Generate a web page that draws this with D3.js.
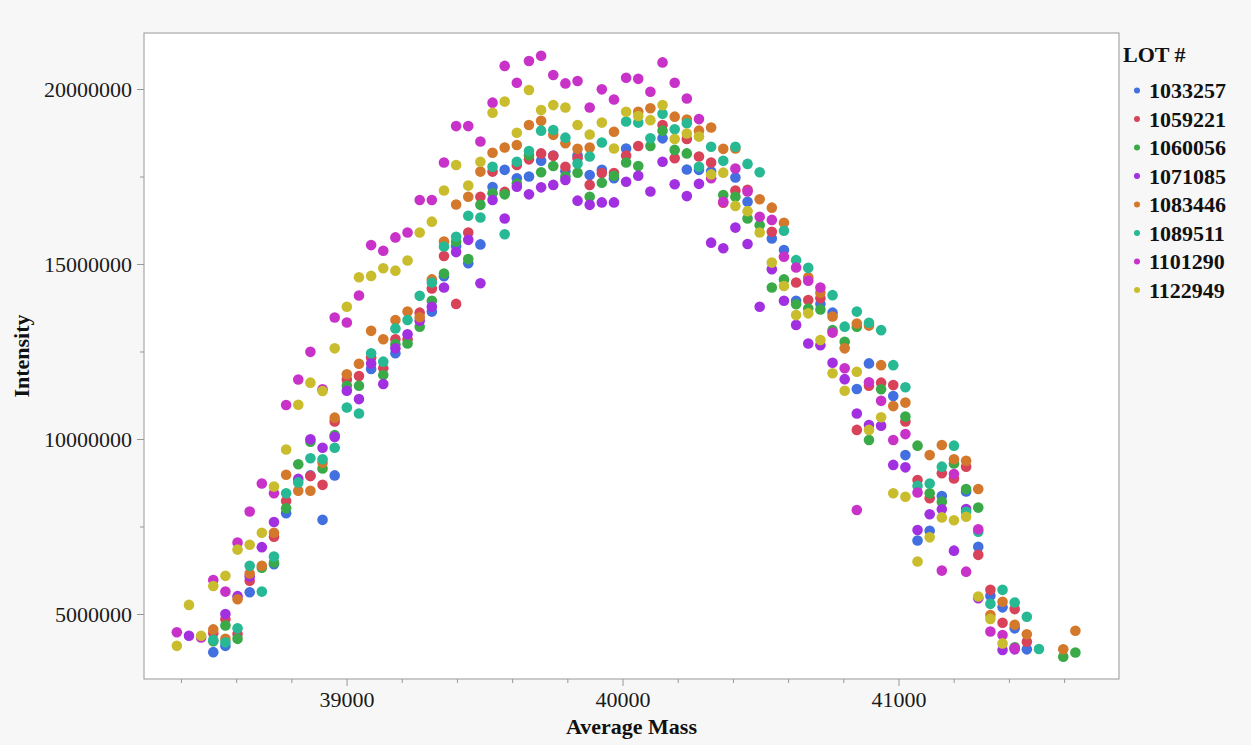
<!DOCTYPE html>
<meta charset="utf-8">
<script src="https://d3js.org/d3.v7.min.js"></script>
<style>
  body { margin: 0; background: #f7f7f7; }
  text { font-family: "Liberation Serif", "Times New Roman", serif; }
</style>
<div id="my_dataviz"></div>
<script>
// Lots shown in the legend, in draw order
var lots = ["1033257", "1059221", "1060056", "1071085", "1083446", "1089511", "1101290", "1122949"];
var lotColors = ["#4270e0", "#d9435a", "#3aaa48", "#a22fe0", "#d4782c", "#27b994", "#c832c8", "#c9bd2e"];

// [Average Mass, Intensity] per lot
var lot1033257 = [[38517,3.91e6],[38561,4.09e6],[38649,5.62e6],[38737,6.42e6],[38781,7.88e6],[38869,8.96e6],[38913,7.69e6],[38957,8.96e6],
  [39089,12.0e6],[39177,12.45e6],[39309,13.64e6],[39353,14.65e6],[39397,15.51e6],[39441,15.02e6],[39485,15.56e6],[39529,17.2e6],
  [39573,17.69e6],[39617,17.45e6],[39661,17.5e6],[39705,17.95e6],[39749,18.1e6],[39793,17.65e6],[39837,18.1e6],[39881,17.54e6],
  [39925,17.69e6],[39969,17.45e6],[40013,18.3e6],[40145,18.59e6],[40233,17.7e6],[40277,17.69e6],[40321,17.64e6],[40409,17.47e6],
  [40453,16.78e6],[40541,15.73e6],[40585,15.4e6],[40629,13.95e6],[40717,13.86e6],[40761,13.61e6],[40849,11.43e6],[40893,12.16e6],
  [40981,11.23e6],[41025,9.54e6],[41069,7.1e6],[41113,7.38e6],[41157,8.37e6],[41245,8.5e6],[41289,6.92e6],[41333,5.52e6],
  [41377,5.19e6],[41421,4.59e6],[41465,3.99e6]];
var lot1059221 = [[38517,4.45e6],[38561,4.85e6],[38605,4.43e6],[38649,5.95e6],[38737,7.21e6],[38781,8.23e6],[38869,8.94e6],[38913,8.69e6],
  [38957,10.5e6],[39001,11.7e6],[39045,11.8e6],[39089,12.33e6],[39133,12.02e6],[39177,12.85e6],[39221,12.85e6],[39265,13.61e6],
  [39309,14.3e6],[39353,15.23e6],[39397,13.86e6],[39441,15.9e6],[39485,16.92e6],[39529,17.64e6],[39573,17.06e6],[39617,17.83e6],
  [39661,17.99e6],[39705,18.16e6],[39749,18.09e6],[39793,17.78e6],[39837,18.02e6],[39881,17.26e6],[39925,17.6e6],[39969,17.6e6],
  [40013,18.1e6],[40057,18.37e6],[40145,18.97e6],[40189,18.02e6],[40233,18.57e6],[40277,18.07e6],[40321,17.9e6],[40365,16.75e6],
  [40409,17.1e6],[40453,17.12e6],[40541,15.92e6],[40629,14.47e6],[40673,13.97e6],[40717,14.02e6],[40849,10.26e6],[40893,11.52e6],
  [40937,11.61e6],[40981,11.54e6],[41025,10.5e6],[41069,8.83e6],[41113,8.31e6],[41157,9.02e6],[41201,8.87e6],[41245,9.21e6],
  [41289,6.69e6],[41333,5.69e6],[41377,4.75e6],[41421,5.14e6],[41465,4.21e6]];
var lot1060056 = [[38517,4.22e6],[38561,4.67e6],[38605,4.29e6],[38693,6.32e6],[38737,6.47e6],[38781,8.02e6],[38825,9.28e6],[38869,9.92e6],
  [38913,9.16e6],[38957,10.11e6],[39001,11.52e6],[39045,11.52e6],[39133,11.83e6],[39177,12.71e6],[39221,12.73e6],[39265,13.21e6],
  [39309,13.95e6],[39353,14.73e6],[39397,15.64e6],[39441,15.14e6],[39485,16.69e6],[39529,17.02e6],[39573,16.99e6],[39617,17.3e6],
  [39661,18.11e6],[39705,17.62e6],[39749,17.8e6],[39793,17.5e6],[39837,17.61e6],[39881,16.92e6],[39925,17.32e6],[39969,17.52e6],
  [40013,17.9e6],[40057,17.8e6],[40101,18.37e6],[40145,18.81e6],[40189,18.26e6],[40233,18.16e6],[40365,16.97e6],[40409,16.92e6],
  [40453,16.3e6],[40497,16.11e6],[40541,14.33e6],[40585,14.56e6],[40629,13.85e6],[40673,13.73e6],[40717,13.7e6],[40761,13.11e6],
  [40805,12.78e6],[40849,13.21e6],[40893,9.97e6],[40937,11.42e6],[41025,10.64e6],[41069,9.81e6],[41113,8.45e6],[41157,8.21e6],
  [41201,9.3e6],[41245,8.57e6],[41289,8.04e6],[41421,4.05e6],[41597,3.78e6],[41641,3.9e6]];
var lot1071085 = [[38429,4.38e6],[38561,5.0e6],[38605,5.51e6],[38649,6.07e6],[38693,6.91e6],[38737,7.63e6],[38825,8.86e6],[38869,9.99e6],
  [38913,9.75e6],[38957,10.06e6],[39001,11.38e6],[39045,11.14e6],[39089,12.16e6],[39133,11.57e6],[39177,12.59e6],[39221,12.99e6],
  [39265,13.38e6],[39309,13.78e6],[39353,14.33e6],[39397,15.34e6],[39441,15.69e6],[39485,14.45e6],[39529,16.83e6],[39573,16.3e6],
  [39617,17.21e6],[39661,16.99e6],[39705,17.19e6],[39749,17.26e6],[39793,17.4e6],[39837,16.81e6],[39881,16.69e6],[39925,16.76e6],
  [39969,16.76e6],[40013,17.35e6],[40057,17.52e6],[40101,17.07e6],[40145,17.92e6],[40189,17.28e6],[40233,16.94e6],[40277,17.29e6],
  [40321,15.61e6],[40365,15.45e6],[40409,16.04e6],[40453,15.57e6],[40497,13.78e6],[40541,14.85e6],[40585,13.95e6],[40629,13.26e6],
  [40673,12.73e6],[40717,12.68e6],[40761,12.18e6],[40805,11.71e6],[40849,10.73e6],[40893,10.4e6],[40937,10.38e6],[40981,9.26e6],
  [41025,9.19e6],[41069,7.4e6],[41113,7.85e6],[41157,7.99e6],[41201,6.81e6],[41245,8.0e6],[41289,5.45e6],[41377,3.97e6],[41421,3.99e6]];
var lot1083446 = [[38517,4.56e6],[38561,4.29e6],[38605,5.42e6],[38649,6.16e6],[38693,6.38e6],[38737,7.32e6],[38781,8.98e6],[38825,8.52e6],
  [38869,8.52e6],[38913,9.32e6],[38957,10.61e6],[39001,11.85e6],[39045,12.15e6],[39089,13.09e6],[39133,12.85e6],[39177,13.4e6],
  [39221,13.64e6],[39265,13.48e6],[39309,14.56e6],[39353,15.64e6],[39397,16.7e6],[39441,16.92e6],[39485,17.64e6],[39529,18.18e6],
  [39573,18.33e6],[39617,18.4e6],[39661,18.97e6],[39705,19.09e6],[39749,18.69e6],[39793,18.45e6],[39837,18.29e6],[39881,18.33e6],
  [39969,18.78e6],[40057,19.35e6],[40101,19.45e6],[40189,19.21e6],[40233,19.13e6],[40277,18.81e6],[40321,18.9e6],[40365,18.29e6],
  [40409,18.3e6],[40497,16.85e6],[40541,16.61e6],[40585,16.18e6],[40673,14.62e6],[40717,14.18e6],[40761,13.5e6],[40805,12.59e6],
  [40849,13.3e6],[40893,13.24e6],[40937,12.11e6],[40981,10.94e6],[41025,11.04e6],[41113,9.54e6],[41157,9.83e6],[41201,9.42e6],
  [41245,9.38e6],[41289,8.57e6],[41333,4.97e6],[41377,5.35e6],[41421,4.69e6],[41465,4.42e6],[41597,3.99e6],[41641,4.52e6]];
var lot1089511 = [[38517,4.26e6],[38561,4.19e6],[38605,4.59e6],[38649,6.38e6],[38693,5.64e6],[38737,6.64e6],[38781,8.45e6],[38825,8.76e6],
  [38869,9.45e6],[38913,9.42e6],[38957,9.75e6],[39001,10.9e6],[39045,10.73e6],[39089,12.45e6],[39133,12.21e6],[39177,13.16e6],
  [39221,13.4e6],[39265,14.09e6],[39309,14.47e6],[39353,15.5e6],[39397,15.78e6],[39441,16.38e6],[39485,16.33e6],[39529,17.78e6],
  [39573,15.85e6],[39617,17.92e6],[39661,18.23e6],[39705,18.81e6],[39749,18.83e6],[39793,18.61e6],[39837,17.87e6],[39881,18.07e6],
  [39925,18.47e6],[40013,19.07e6],[40057,19.04e6],[40101,18.59e6],[40145,19.29e6],[40189,18.85e6],[40233,19.02e6],[40277,17.78e6],
  [40321,18.35e6],[40365,17.95e6],[40409,18.35e6],[40453,17.86e6],[40497,17.62e6],[40585,15.95e6],[40629,15.11e6],[40673,14.89e6],
  [40761,14.11e6],[40805,13.21e6],[40849,13.64e6],[40893,13.32e6],[40937,13.11e6],[40981,12.11e6],[41025,11.48e6],[41069,8.66e6],
  [41113,8.73e6],[41157,9.21e6],[41201,9.81e6],[41245,7.92e6],[41289,7.35e6],[41333,5.29e6],[41377,5.69e6],[41421,5.33e6],
  [41465,4.92e6],[41509,4.0e6]];
var lot1101290 = [[38385,4.48e6],[38473,4.33e6],[38517,5.97e6],[38561,5.64e6],[38605,7.04e6],[38649,7.93e6],[38693,8.73e6],[38737,8.45e6],
  [38781,10.97e6],[38825,11.7e6],[38869,12.49e6],[38913,11.42e6],[38957,13.47e6],[39001,13.33e6],[39045,14.1e6],[39089,15.54e6],
  [39133,15.38e6],[39177,15.76e6],[39221,15.9e6],[39265,16.83e6],[39309,16.83e6],[39353,17.9e6],[39397,18.94e6],[39441,18.94e6],
  [39485,18.5e6],[39529,19.61e6],[39573,20.66e6],[39617,20.18e6],[39661,20.8e6],[39705,20.95e6],[39749,20.4e6],[39793,20.16e6],
  [39837,20.23e6],[39881,19.47e6],[39925,19.99e6],[39969,19.7e6],[40013,20.32e6],[40057,20.29e6],[40101,19.92e6],[40145,20.76e6],
  [40189,20.18e6],[40233,19.73e6],[40277,19.14e6],[40321,17.45e6],[40365,16.78e6],[40409,17.73e6],[40453,17.07e6],[40497,16.35e6],
  [40541,16.26e6],[40585,15.21e6],[40629,14.9e6],[40673,14.52e6],[40717,14.33e6],[40761,13.04e6],[40805,12.02e6],[40849,7.97e6],
  [40893,11.62e6],[40937,11.09e6],[40981,9.97e6],[41025,10.14e6],[41069,8.47e6],[41157,6.24e6],[41201,9.0e6],[41245,6.21e6],
  [41289,7.42e6],[41333,4.5e6],[41377,4.4e6],[41421,4.02e6]];
var lot1122949 = [[38385,4.09e6],[38429,5.26e6],[38473,4.38e6],[38517,5.8e6],[38561,6.09e6],[38605,6.84e6],[38649,6.98e6],[38693,7.32e6],
  [38737,8.64e6],[38781,9.7e6],[38825,10.98e6],[38869,11.61e6],[38913,11.37e6],[38957,12.59e6],[39001,13.78e6],[39045,14.62e6],
  [39089,14.66e6],[39133,14.88e6],[39177,14.81e6],[39221,15.1e6],[39265,15.9e6],[39309,16.21e6],[39353,17.1e6],[39397,17.83e6],
  [39441,17.24e6],[39485,17.92e6],[39529,19.32e6],[39573,19.64e6],[39617,18.75e6],[39661,19.97e6],[39705,19.4e6],[39749,19.54e6],
  [39793,19.47e6],[39837,18.97e6],[39881,18.7e6],[39925,19.04e6],[39969,18.3e6],[40013,19.35e6],[40057,19.23e6],[40101,19.11e6],
  [40145,19.54e6],[40189,18.57e6],[40233,18.73e6],[40277,18.64e6],[40321,17.56e6],[40365,17.61e6],[40409,16.66e6],[40453,16.51e6],
  [40497,15.9e6],[40541,15.04e6],[40585,14.37e6],[40629,13.54e6],[40673,13.59e6],[40717,12.83e6],[40761,11.88e6],[40805,11.38e6],
  [40849,11.92e6],[40893,10.26e6],[40937,10.62e6],[40981,8.45e6],[41025,8.35e6],[41069,6.5e6],[41113,7.19e6],[41157,7.76e6],
  [41201,7.68e6],[41245,7.78e6],[41289,5.5e6],[41333,4.86e6],[41377,4.16e6]];

var lotData = [lot1033257, lot1059221, lot1060056, lot1071085, lot1083446, lot1089511, lot1101290, lot1122949];

// Tick values
var xMajorTicks = [39000, 40000, 41000];
var xMinorTicks = [38400, 38600, 38800, 39200, 39400, 39600, 39800, 40200, 40400, 40600, 40800, 41200, 41400, 41600];
var yMajorTicks = [5000000, 10000000, 15000000, 20000000];
var yMinorTicks = [7500000, 12500000, 17500000];

// Dimensions
var W = 1251, H = 745;
var margin = {top: 33, right: 132, bottom: 66, left: 144},
    width = W - margin.left - margin.right,
    height = H - margin.top - margin.bottom;

var svgRoot = d3.select("#my_dataviz")
  .append("svg")
    .attr("width", W)
    .attr("height", H);

svgRoot.append("rect")
  .attr("width", W).attr("height", H)
  .attr("fill", "#f7f7f7");

var svg = svgRoot.append("g")
    .attr("transform", "translate(" + margin.left + "," + margin.top + ")");

var x = d3.scaleLinear().domain([38266, 41799]).range([0, width]);
var y = d3.scaleLinear().domain([3143000, 21600000]).range([height, 0]);

// plot frame
svg.append("rect")
  .attr("width", width).attr("height", height)
  .attr("fill", "#ffffff")
  .attr("stroke", "#a9a9a9")
  .attr("stroke-width", 1.2);

// X axis: minor then major ticks
svg.append("g")
  .attr("transform", "translate(0," + height + ")")
  .call(d3.axisBottom(x).tickValues(xMinorTicks).tickSize(4).tickFormat(""))
  .call(function(g) { g.select(".domain").remove(); });

var xAxis = svg.append("g")
  .attr("transform", "translate(0," + height + ")")
  .call(d3.axisBottom(x).tickValues(xMajorTicks).tickSize(7).tickPadding(5).tickFormat(d3.format("d")));
xAxis.select(".domain").remove();

// Y axis
svg.append("g")
  .call(d3.axisLeft(y).tickValues(yMinorTicks).tickSize(4).tickFormat(""))
  .call(function(g) { g.select(".domain").remove(); });

var yAxis = svg.append("g")
  .call(d3.axisLeft(y).tickValues(yMajorTicks).tickSize(7).tickPadding(5).tickFormat(d3.format("d")));
yAxis.select(".domain").remove();

svg.selectAll(".tick line").attr("stroke", "#999999");
svg.selectAll(".tick text")
  .style("font-family", "'Liberation Serif', serif")
  .style("font-size", "22px")
  .attr("fill", "#1a1a1a");

// Points, one group per lot
lotData.forEach(function(data, i) {
  svg.append("g")
    .selectAll("circle")
    .data(data)
    .enter()
    .append("circle")
      .attr("cx", function(d) { return x(d[0]); })
      .attr("cy", function(d) { return y(d[1]); })
      .attr("r", 5.3)
      .style("fill", lotColors[i]);
});

// Axis titles
svgRoot.append("text")
  .attr("x", margin.left + width / 2)
  .attr("y", 734)
  .attr("text-anchor", "middle")
  .style("font-weight", "bold")
  .style("font-size", "22px")
  .attr("fill", "#111")
  .text("Average Mass");

svgRoot.append("text")
  .attr("transform", "translate(29," + (margin.top + height / 2) + ")rotate(-90)")
  .attr("text-anchor", "middle")
  .style("font-weight", "bold")
  .style("font-size", "22px")
  .attr("fill", "#111")
  .text("Intensity");

// Legend
var legend = svgRoot.append("g").attr("transform", "translate(1123,0)");
legend.append("text")
  .attr("x", 0).attr("y", 62)
  .style("font-weight", "bold")
  .style("font-size", "22px")
  .attr("fill", "#111")
  .text("LOT #");

var items = legend.selectAll("g.item")
  .data(lots)
  .enter()
  .append("g")
    .attr("class", "item")
    .attr("transform", function(d, i) { return "translate(0," + (90.5 + i * 28.5) + ")"; });

items.append("circle")
  .attr("cx", 14).attr("cy", 0).attr("r", 3)
  .style("fill", function(d, i) { return lotColors[i]; });

items.append("text")
  .attr("x", 26).attr("y", 0).attr("dy", "0.35em")
  .style("font-weight", "bold")
  .style("font-size", "22px")
  .attr("fill", "#111")
  .text(function(d) { return d; });
</script>
